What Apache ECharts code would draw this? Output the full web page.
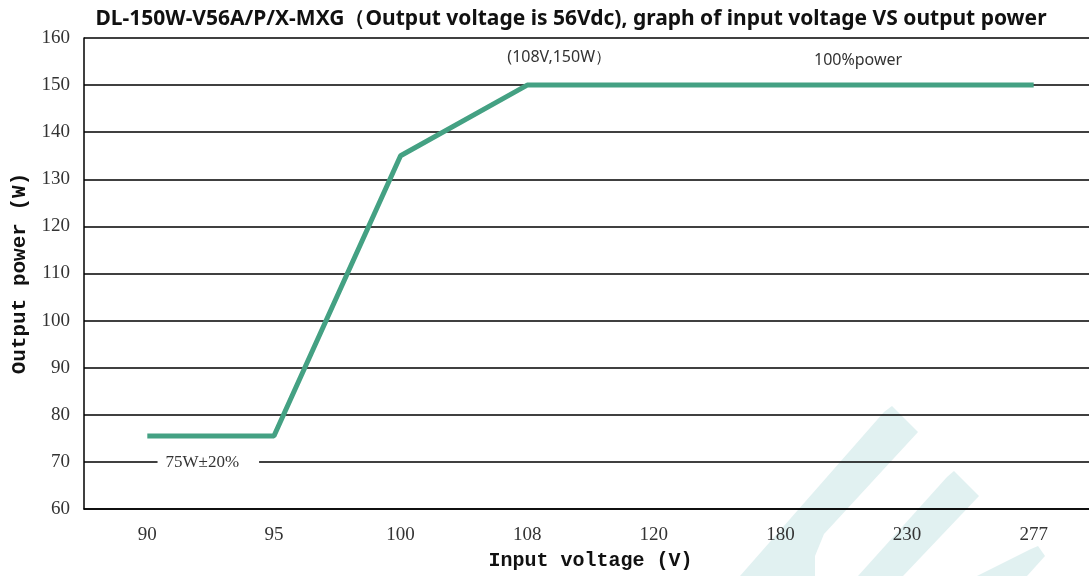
<!DOCTYPE html>
<html>
<head>
<meta charset="utf-8">
<script src="https://cdn.jsdelivr.net/npm/echarts@6/dist/echarts.min.js"></script>
<style>
html,body{margin:0;padding:0;background:#fff;overflow:hidden;}
#chart{width:1100px;height:576px;}
</style>
</head>
<body>
<div id="chart"></div>
<script>
const titleText = 'DL-150W-V56A/P/X-MXG（Output voltage is 56Vdc), graph of input voltage VS output power';
const categories = ['90', '95', '100', '108', '120', '180', '230', '277'];
const powerValues = [75.5, 75.5, 135, 150, 150, 150, 150, 150];
const yTicks = [60, 70, 80, 90, 100, 110, 120, 130, 140, 150, 160];
const annotations = [
  {text: '(108V,150W）', x: '108', y: 150},
  {text: '100%power', x: '230', y: 150},
  {text: '75W±20%', x: '90', y: 70}
];

const chart = echarts.init(document.getElementById('chart'));
const serif = '"Liberation Serif", "DejaVu Serif", serif';
const mono = '"Liberation Mono", "DejaVu Sans Mono", monospace';
const sans = '"Noto Sans", "DejaVu Sans", sans-serif';

chart.setOption({
  animation: false,
  backgroundColor: '#fff',
  title: {
    text: titleText,
    left: 566,
    textAlign: 'center',
    top: 4,
    textStyle: {fontFamily: sans, fontWeight: 'bold', fontSize: 21, color: '#111'}
  },
  graphic: [
    {type: 'polygon', z: -10, silent: true,
     shape: {points: [[884,412],[892,406],[918,432],[824,534],[815,556],[815,576],[740,576]]},
     style: {fill: '#e1f1f1'}},
    {type: 'polygon', z: -10, silent: true,
     shape: {points: [[947,477],[954,471],[979,496],[903,576],[858,576]]},
     style: {fill: '#e1f1f1'}},
    {type: 'polygon', z: -10, silent: true,
     shape: {points: [[1031,549],[1038,546],[1045,556],[1027,576],[977,576]]},
     style: {fill: '#e1f1f1'}}
  ],
  grid: {left: 84, width: 1013, top: 38, height: 472, containLabel: false},
  xAxis: {
    type: 'category',
    data: categories,
    boundaryGap: true,
    name: 'Input voltage (V)',
    nameLocation: 'middle',
    nameGap: 42,
    nameTextStyle: {fontFamily: mono, fontWeight: 'bold', fontSize: 20, color: '#111'},
    axisLine: {lineStyle: {color: '#000', width: 1.5}},
    axisTick: {show: false},
    axisLabel: {fontFamily: serif, fontSize: 19, color: '#333', margin: 17},
    splitLine: {show: false}
  },
  yAxis: {
    type: 'value',
    min: yTicks[0],
    max: yTicks[yTicks.length - 1],
    interval: 10,
    name: 'Output power (W)',
    nameLocation: 'middle',
    nameGap: 54,
    nameTextStyle: {fontFamily: mono, fontWeight: 'bold', fontSize: 21, color: '#111'},
    axisLine: {show: true, lineStyle: {color: '#000', width: 1.5}},
    axisTick: {show: false},
    axisLabel: {fontFamily: serif, fontSize: 19, color: '#333', margin: 14},
    splitLine: {lineStyle: {color: '#000', width: 1.5}}
  },
  series: [{
    type: 'line',
    data: powerValues,
    symbol: 'none',
    lineStyle: {color: '#44a183', width: 5},
    itemStyle: {color: '#44a183'},
    z: 5,
    markPoint: {
      symbol: 'circle',
      symbolSize: 0,
      silent: true,
      data: [
        {coord: [annotations[0].x, annotations[0].y], value: annotations[0].text,
         label: {offset: [32, -28]}},
        {coord: [annotations[1].x, annotations[1].y], value: annotations[1].text,
         label: {offset: [-49, -25]}},
        {coord: [annotations[2].x, annotations[2].y], value: annotations[2].text,
         label: {offset: [61, 1], backgroundColor: '#fff', padding: [2, 20, 2, 8], fontFamily: serif, fontSize: 17}}
      ],
      label: {show: true, position: 'inside', formatter: p => p.value,
              fontFamily: sans, fontSize: 16, color: '#333'}
    }
  }]
});
</script>
</body>
</html>
